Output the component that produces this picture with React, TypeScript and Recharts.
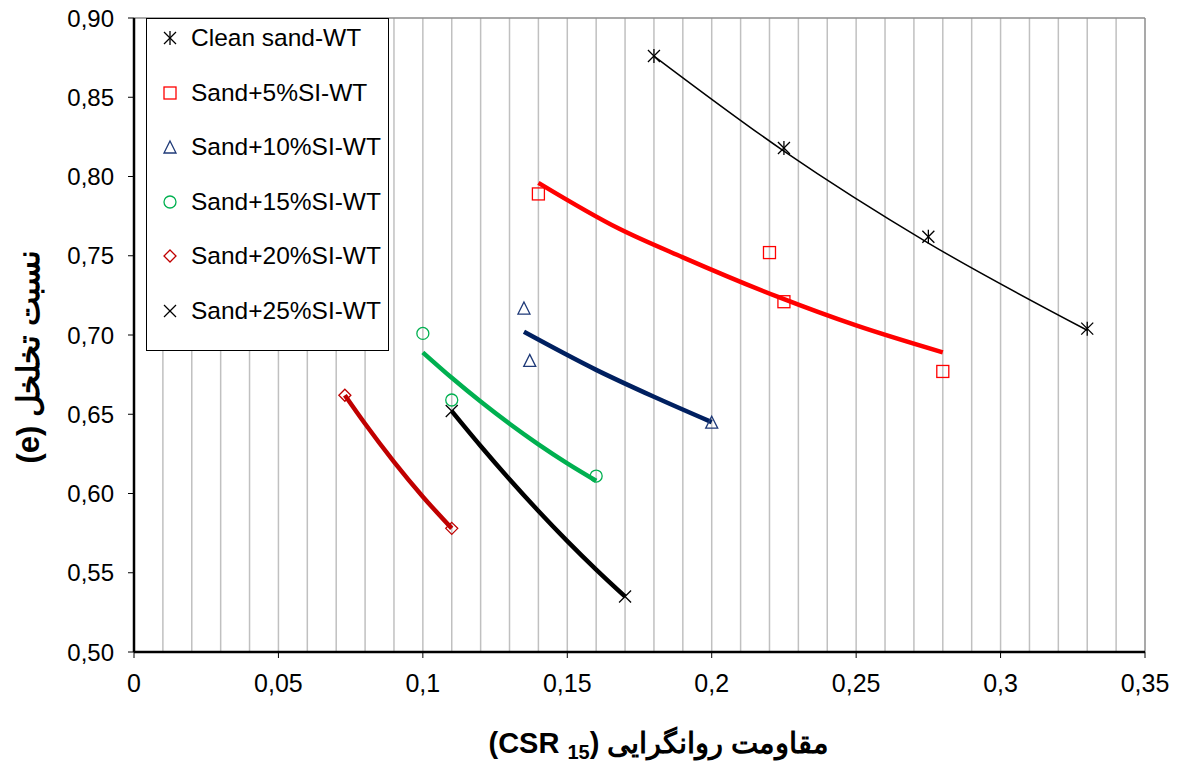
import React from "react";
import {
    ComposedChart,
    Line,
    Scatter,
    XAxis,
    YAxis,
    ReferenceLine,
} from "recharts";

// measured points
const cleanX = [0.18, 0.225, 0.275, 0.33];
const cleanY = [0.876, 0.818, 0.762, 0.704];
const sl5X = [0.14, 0.22, 0.225, 0.28];
const sl5Y = [0.789, 0.752, 0.721, 0.677];
const sl10X = [0.135, 0.137, 0.2];
const sl10Y = [0.717, 0.684, 0.645];
const sl15X = [0.1, 0.11, 0.16];
const sl15Y = [0.701, 0.659, 0.611];
const sl20X = [0.073, 0.11];
const sl20Y = [0.662, 0.578];
const sl25X = [0.11, 0.17];
const sl25Y = [0.652, 0.535];

// trend lines
const cleanTrendX = [0.18, 0.225, 0.275, 0.33];
const cleanTrendY = [0.876, 0.816, 0.758, 0.703];
const sl5TrendX = [0.14, 0.168, 0.19, 0.223, 0.25, 0.28];
const sl5TrendY = [0.796, 0.767, 0.749, 0.724, 0.706, 0.689];
const sl10TrendX = [0.135, 0.16, 0.18, 0.2];
const sl10TrendY = [0.702, 0.678, 0.661, 0.645];
const sl15TrendX = [0.1, 0.11, 0.12, 0.13, 0.14, 0.15, 0.16];
const sl15TrendY = [0.689, 0.673, 0.658, 0.644, 0.631, 0.619, 0.608];
const sl20TrendX = [0.073, 0.08, 0.09, 0.1, 0.11];
const sl20TrendY = [0.662, 0.644, 0.62, 0.598, 0.578];
const sl25TrendX = [0.11, 0.12, 0.13, 0.14, 0.15, 0.16, 0.17];
const sl25TrendY = [0.652, 0.63, 0.609, 0.589, 0.57, 0.552, 0.535];

const xTicks = [0, 0.05, 0.1, 0.15, 0.2, 0.25, 0.3, 0.35];
const yTicks = [0.5, 0.55, 0.6, 0.65, 0.7, 0.75, 0.8, 0.85, 0.9];
const gridX = [
    0.01, 0.02, 0.03, 0.04, 0.05, 0.06, 0.07, 0.08, 0.09, 0.1, 0.11, 0.12,
    0.13, 0.14, 0.15, 0.16, 0.17, 0.18, 0.19, 0.2, 0.21, 0.22, 0.23, 0.24,
    0.25, 0.26, 0.27, 0.28, 0.29, 0.3, 0.31, 0.32, 0.33, 0.34,
];

const seriesNames = [
    "Clean sand-WT",
    "Sand+5%SI-WT",
    "Sand+10%SI-WT",
    "Sand+15%SI-WT",
    "Sand+20%SI-WT",
    "Sand+25%SI-WT",
];

const toPts = (xs: number[], ys: number[]) => xs.map((x, i) => ({ x, y: ys[i] }));

const FONT = "'Liberation Sans', Arial, sans-serif";

function Marker({ kind, cx, cy }: { kind: number; cx: number; cy: number }) {
    const s = 6;
    switch (kind) {
        case 0:
            return (
                <g stroke="#000" strokeWidth={1.3} fill="none">
                    <line x1={cx - s} y1={cy - s} x2={cx + s} y2={cy + s} />
                    <line x1={cx - s} y1={cy + s} x2={cx + s} y2={cy - s} />
                    <line x1={cx} y1={cy - s - 1} x2={cx} y2={cy + s + 1} />
                </g>
            );
        case 1:
            return <rect x={cx - s} y={cy - s} width={2 * s} height={2 * s} fill="none" stroke="#FF0000" strokeWidth={1.3} />;
        case 2:
            return (
                <polygon
                    points={`${cx},${cy - s} ${cx + s},${cy + s} ${cx - s},${cy + s}`}
                    fill="none"
                    stroke="#1F3A78"
                    strokeWidth={1.3}
                />
            );
        case 3:
            return <circle cx={cx} cy={cy} r={s} fill="none" stroke="#00B050" strokeWidth={1.3} />;
        case 4:
            return (
                <polygon
                    points={`${cx},${cy - s} ${cx + s},${cy} ${cx},${cy + s} ${cx - s},${cy}`}
                    fill="none"
                    stroke="#C00000"
                    strokeWidth={1.3}
                />
            );
        default:
            return (
                <g stroke="#000" strokeWidth={1.3}>
                    <line x1={cx - s} y1={cy - s} x2={cx + s} y2={cy + s} />
                    <line x1={cx - s} y1={cy + s} x2={cx + s} y2={cy - s} />
                </g>
            );
    }
}

const fmt = (v: number) => String(parseFloat(v.toFixed(2))).replace(".", ",");

function YTitle() {
    const cy = 357;
    return (
        <text
            x={28}
            y={cy}
            transform={`rotate(-90, 28, ${cy})`}
            textAnchor="middle"
            dominantBaseline="central"
            direction="rtl"
            fontFamily={FONT}
            fontWeight="bold"
            fontSize={31}
            fill="#000"
        >
            نسبت تخلخل (e)
        </text>
    );
}

function XTitle() {
    return (
        <text x={659} y={753} textAnchor="middle" fontFamily={FONT} fontWeight="bold" fontSize={29} fill="#000">
            (CSR <tspan fontSize={20} dy={6}>15</tspan>
            <tspan dy={-6}>) مقاومت روانگرایی</tspan>
        </text>
    );
}

export default function App() {
    const lines = [
        { d: toPts(cleanTrendX, cleanTrendY), c: "#000000", w: 1.5 },
        { d: toPts(sl5TrendX, sl5TrendY), c: "#FF0000", w: 4.5 },
        { d: toPts(sl10TrendX, sl10TrendY), c: "#002060", w: 4.5 },
        { d: toPts(sl15TrendX, sl15TrendY), c: "#00B050", w: 4.5 },
        { d: toPts(sl20TrendX, sl20TrendY), c: "#C00000", w: 4.5 },
        { d: toPts(sl25TrendX, sl25TrendY), c: "#000000", w: 4.5 },
    ];
    const marks = [
        toPts(cleanX, cleanY),
        toPts(sl5X, sl5Y),
        toPts(sl10X, sl10Y),
        toPts(sl15X, sl15Y),
        toPts(sl20X, sl20Y),
        toPts(sl25X, sl25Y),
    ];

    return (
        <div style={{ position: "fixed", left: 0, top: 0, width: 1177, height: 764, background: "#fff" }}>
            <ComposedChart width={1177} height={764} margin={{ top: 18, right: 32, bottom: 0, left: 0 }}>
                <XAxis
                    type="number"
                    dataKey="x"
                    domain={[0, 0.35]}
                    ticks={xTicks}
                    tickFormatter={fmt}
                    height={112}
                    allowDataOverflow
                    axisLine={{ stroke: "#000", strokeWidth: 2.5 }}
                    tickLine={{ stroke: "#000", strokeWidth: 1 }}
                    tickSize={6}
                    tickMargin={16}
                    tick={{ fill: "#000", fontSize: 25, fontFamily: FONT }}
                    label={<XTitle />}
                />
                <YAxis
                    type="number"
                    dataKey="y"
                    domain={[0.5, 0.9]}
                    ticks={yTicks}
                    tickFormatter={(v: number) => v.toFixed(2).replace(".", ",")}
                    width={134}
                    allowDataOverflow
                    axisLine={{ stroke: "#000", strokeWidth: 2.5 }}
                    tickLine={{ stroke: "#000", strokeWidth: 1 }}
                    tickSize={6}
                    tickMargin={14}
                    tick={{ fill: "#000", fontSize: 24, fontFamily: FONT }}
                    label={<YTitle />}
                />
                {gridX.map((g) => (
                    <ReferenceLine key={g} x={g} stroke="#c0c0c0" strokeWidth={1.5} />
                ))}
                <ReferenceLine x={0.35} stroke="#8c8c8c" strokeWidth={1.5} />
                <ReferenceLine y={0.9} stroke="#8c8c8c" strokeWidth={1.5} />
                {lines.map((l, i) => (
                    <Line
                        key={"l" + i}
                        data={l.d}
                        dataKey="y"
                        type="monotone"
                        stroke={l.c}
                        strokeWidth={l.w}
                        dot={false}
                        activeDot={false}
                        isAnimationActive={false}
                    />
                ))}
                {marks.map((m, i) => (
                    <Scatter
                        key={"s" + i}
                        data={m}
                        dataKey="y"
                        isAnimationActive={false}
                        shape={(p: any) => <Marker kind={i} cx={p.cx} cy={p.cy} />}
                    />
                ))}
            </ComposedChart>
            <div
                style={{
                    position: "absolute",
                    left: 146,
                    top: 18,
                    width: 241,
                    height: 331,
                    background: "#fff",
                    border: "1px solid #000",
                    fontFamily: FONT,
                    fontSize: 24.5,
                }}
            >
                {seriesNames.map((n, i) => (
                    <div
                        key={n}
                        style={{ position: "absolute", left: 0, top: 19 + i * 54.6 - 14, height: 28, display: "flex", alignItems: "center" }}
                    >
                        <svg width={44} height={28} style={{ display: "block" }}>
                            <Marker kind={i} cx={23} cy={14} />
                        </svg>
                        <span style={{ whiteSpace: "nowrap", lineHeight: "28px" }}>{n}</span>
                    </div>
                ))}
            </div>
        </div>
    );
}
